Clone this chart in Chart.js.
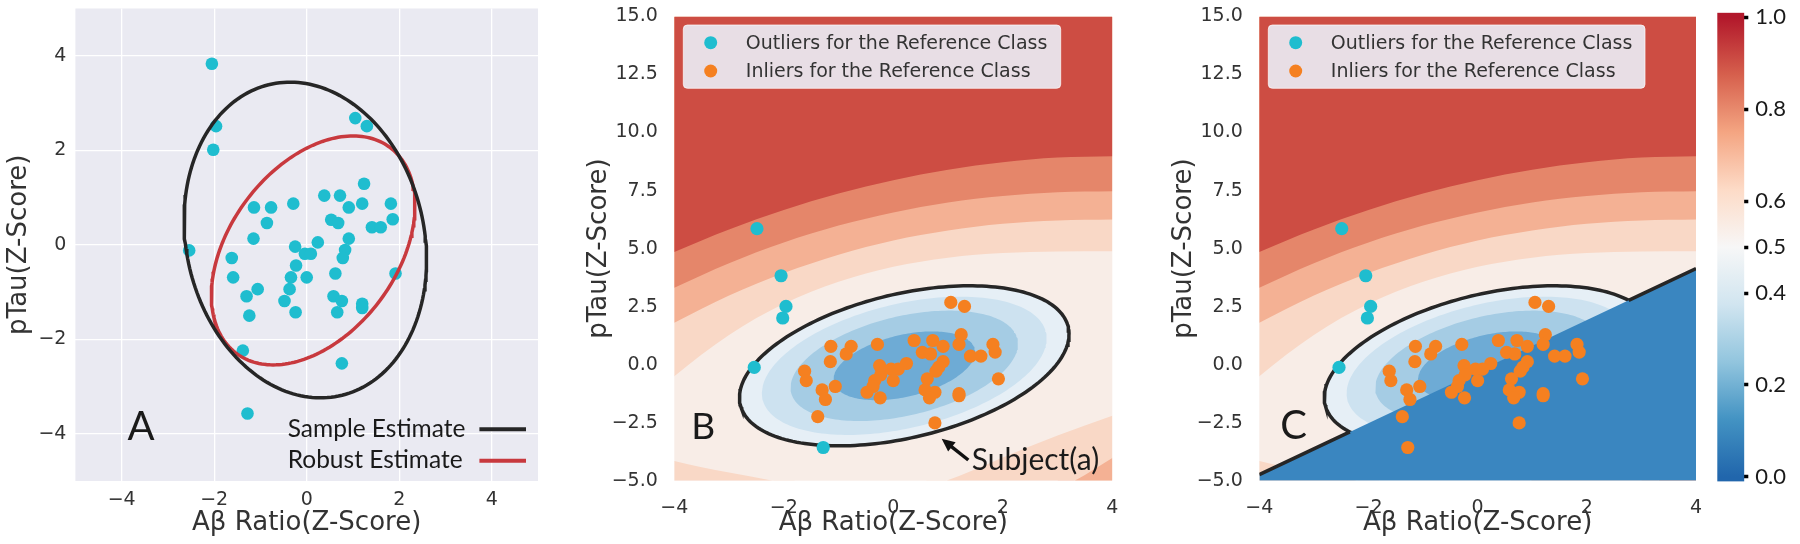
<!DOCTYPE html>
<html>
<head>
<meta charset="utf-8">
<script src="https://cdn.jsdelivr.net/npm/chart.js@4.4.1/dist/chart.umd.min.js"></script>
<style>
  html, body { margin: 0; padding: 0; background: #fff; }
  #wrap { position: relative; width: 1800px; height: 544px; overflow: hidden; }
  canvas { position: absolute; top: 0; }
</style>
</head>
<body>
<div id="wrap">
  <canvas id="chartA" width="560" height="544" style="left:0px"></canvas>
  <canvas id="chartB" width="585" height="544" style="left:560px"></canvas>
  <canvas id="chartC" width="575" height="544" style="left:1145px"></canvas>
  <canvas id="colorbar" width="100" height="544" style="left:1700px"></canvas>
</div>
<script>
// subjects: Abeta ratio and pTau z-scores (same subjects in all three panels)
const abeta = [-2.05, -1.96, -2.02, -2.54, 1.05, 1.30, 1.24, 0.38, 0.72, 0.91, 1.20, 1.82, 1.86, 1.41, 1.60,
  0.53, 0.68, -0.29, -0.77, -1.14, -0.86, -1.15, 0.91, 0.24, -0.25, -0.04, 0.09, 0.83, 0.78, -1.62,
  -0.23, -1.59, -0.34, 0.00, 0.62, 1.92, -1.06, -0.37, -1.30, -0.48, 0.58, 0.76, 1.20, 1.20, -1.24,
  -0.24, 0.66, -1.38, 0.76, -1.28, -2.49];
const ptau = [3.83, 2.51, 2.01, -0.12, 2.68, 2.51, 1.29, 1.04, 1.04, 0.79, 0.87, 0.87, 0.54, 0.37, 0.37,
  0.53, 0.46, 0.87, 0.79, 0.79, 0.46, 0.13, 0.13, 0.05, -0.04, -0.19, -0.19, -0.11, -0.28, -0.28,
  -0.44, -0.69, -0.69, -0.69, -0.61, -0.61, -0.94, -0.94, -1.09, -1.19, -1.09, -1.19, -1.25, -1.34, -1.50,
  -1.43, -1.43, -2.24, -2.51, -3.57, 5.86];
// indexes of the subjects flagged as outliers in B and C
const outliersB = [0, 1, 2, 3, 49, 50];
const outliersC = [0, 1, 2, 3, 50];

const legendLabelsA = ['Sample Estimate', 'Robust Estimate'];
const legendLabelsBC = ['Outliers for the Reference Class', 'Inliers for the Reference Class'];

const ticksA = [-4, -2, 0, 2, 4];
const xTicksBC = [-4, -2, 0, 2, 4];
const yTicksBC = [-5, -2.5, 0, 2.5, 5, 7.5, 10, 12.5, 15];
const colorbarTicks = [0, 0.2, 0.4, 0.5, 0.6, 0.8, 1.0];

// ellipses: [centre x, centre y, semi axis a, semi axis b, angle in degrees]
const sampleEllipse = [-0.03, 0.10, 3.38, 2.57, 103.6];
const robustEllipse = [0.14, -0.12, 2.74, 1.79, 51.9];
const refEllipse = [0.20, -0.05, 3.85, 2.475, 54.5];
// inner probability levels of the reference class, as a fraction of refEllipse
const innerLevels = [0.5, 0.4, 0.3, 0.2];
const innerScale = [1.0, 0.864, 0.69, 0.43];

// outer probability contours (upper arcs)
const arcX = [-4.5, -4, -3, -2, -1, 0, 1, 2, 3, 4, 4.5];
const arc06 = [-1.58, -0.5, 1.28, 2.62, 3.57, 4.22, 4.61, 4.81, 4.88, 4.89, 4.89];
const arc07 = [1.13, 1.80, 2.98, 3.95, 4.74, 5.35, 5.78, 6.07, 6.21, 6.25, 6.26];
const arc08 = [2.72, 3.31, 4.37, 5.26, 5.99, 6.56, 6.99, 7.27, 7.43, 7.47, 7.48];
const arc09 = [4.32, 4.85, 5.82, 6.66, 7.37, 7.95, 8.40, 8.72, 8.92, 8.98, 8.99];
// lower corners
const lowRightX06 = [0.6, 1.2, 2, 3, 4, 4.5];
const lowRight06 = [-5.3, -4.8, -4.0, -3.05, -2.2, -1.8];
const lowRightX07 = [3.0, 3.5, 4, 4.5];
const lowRight07 = [-5.4, -4.75, -4.02, -3.3];
const lowLeftX06 = [-4.5, -4, -3, -2.2, -1.8];
const lowLeft06 = [-3.8, -4.15, -4.65, -5.0, -5.2];

// panel C linear boundary
const classifierX = [-4, 4];
const classifierY = [-4.74, 4.14];

// colorbar colour map
const cmapStops = [[0, '#2166ac'], [0.125, '#4393c3'], [0.25, '#92c5de'], [0.375, '#d1e5f0'], [0.5, '#f7f7f7'],
  [0.625, '#fddbc7'], [0.75, '#f4a582'], [0.875, '#d6604d'], [1, '#b2182b']];

const cyan = '#1fbdcf';
const orange = '#f58020';
const textColor = '#333333';
const tickFont = { family: '"DejaVu Sans", sans-serif', size: 19 };
const titleFont = { family: '"DejaVu Sans", sans-serif', size: 26 };

Chart.defaults.font.family = '"DejaVu Sans", sans-serif';

const minus = s => String(s).replace('-', '\u2212');
const toPts = (xs, ys) => xs.map((x, i) => ({ x, y: ys[i] }));

function ellipsePoints(e, s, n) {
  const [cx, cy, a, b, deg] = e;
  const r = deg * Math.PI / 180;
  const pts = [];
  for (let i = 0; i <= n; i++) {
    const t = 2 * Math.PI * i / n;
    const u = a * s * Math.cos(t), v = b * s * Math.sin(t);
    pts.push({ x: cx + u * Math.cos(r) - v * Math.sin(r), y: cy + u * Math.sin(r) + v * Math.cos(r) });
  }
  return pts;
}

// straight boundary of C, with the part inside the reference ellipse left out
function classifierBoundary() {
  const [cx, cy, a, b, deg] = refEllipse;
  const r = deg * Math.PI / 180;
  const toU = (x, y) => (x - cx) * Math.cos(r) + (y - cy) * Math.sin(r);
  const toV = (x, y) => -(x - cx) * Math.sin(r) + (y - cy) * Math.cos(r);
  const x0 = classifierX[0], y0 = classifierY[0], dx = classifierX[1] - x0, dy = classifierY[1] - y0;
  const u0 = toU(x0, y0), v0 = toV(x0, y0);
  const du = toU(x0 + dx, y0 + dy) - u0, dv = toV(x0 + dx, y0 + dy) - v0;
  const A = (du / a) ** 2 + (dv / b) ** 2;
  const B = 2 * (u0 * du / (a * a) + v0 * dv / (b * b));
  const C = (u0 / a) ** 2 + (v0 / b) ** 2 - 1;
  const disc = Math.sqrt(B * B - 4 * A * C);
  const t1 = (-B - disc) / (2 * A), t2 = (-B + disc) / (2 * A);
  const at = t => ({ x: x0 + t * dx, y: y0 + t * dy });
  return [at(0), at(t1), { x: at((t1 + t2) / 2).x, y: null }, at(t2), at(1)];
}

function fixAxis(size, horizontal) {
  return s => {
    if (horizontal) s.height = size; else s.width = size;
    s.paddingLeft = 0; s.paddingRight = 0; s.paddingTop = 0; s.paddingBottom = 0;
  };
}

const areaBackground = {
  id: 'areaBackground',
  beforeDraw(chart, args, opts) {
    const { ctx, chartArea: a } = chart;
    ctx.save();
    ctx.fillStyle = opts.color;
    ctx.fillRect(a.left, a.top, a.width, a.height);
    ctx.restore();
  }
};

const panelText = {
  id: 'panelText',
  afterDatasetsDraw(chart, args, opts) {
    const { ctx, chartArea: a } = chart;
    ctx.save();
    ctx.fillStyle = '#1a1a1a';
    ctx.textBaseline = 'alphabetic';
    ctx.textAlign = 'left';
    ctx.font = opts.letterSize + 'px Lato, "Open Sans", sans-serif';
    ctx.fillText(opts.letter, a.left + opts.letterX, a.top + opts.letterY);

    if (opts.lineLegend) {
      ctx.font = '24.5px Lato, "Open Sans", sans-serif';
      chart.data.datasets.filter(d => d.inLegend).forEach((d, i) => {
        const base = a.top + 428.2 + i * 31.6;
        ctx.fillStyle = '#1a1a1a';
        ctx.fillText(d.label, a.left + 212.3, base);
        ctx.strokeStyle = d.borderColor;
        ctx.lineWidth = 4;
        ctx.beginPath();
        ctx.moveTo(a.left + 404, base - 7.5);
        ctx.lineTo(a.left + 450.6, base - 7.5);
        ctx.stroke();
      });
    }

    if (opts.dotLegend) {
      const x0 = a.left + 9, y0 = a.top + 8.5, w = opts.boxWidth, h = 63.3;
      ctx.beginPath();
      ctx.roundRect(x0, y0, w, h, 4);
      ctx.fillStyle = 'rgba(234,234,242,0.93)';
      ctx.fill();
      ctx.strokeStyle = 'rgba(255,255,255,0.7)';
      ctx.lineWidth = 1;
      ctx.stroke();
      ctx.font = '19px "DejaVu Sans", sans-serif';
      ctx.textBaseline = 'middle';
      chart.data.datasets.filter(d => d.inLegend).forEach((d, i) => {
        const cy = y0 + 17.7 + i * 28.3;
        ctx.fillStyle = d.backgroundColor;
        ctx.beginPath();
        ctx.arc(x0 + 27.4, cy, 6.5, 0, 2 * Math.PI);
        ctx.fill();
        ctx.fillStyle = textColor;
        ctx.fillText(d.label, x0 + 62.5, cy + 1);
      });
    }

    if (opts.subject) {
      const tx = a.left + 294, ty = a.top + 443.5, hx = a.left + 267.4, hy = a.top + 422.3;
      const ang = Math.atan2(hy - ty, hx - tx);
      ctx.strokeStyle = '#111';
      ctx.fillStyle = '#111';
      ctx.lineWidth = 3.5;
      ctx.beginPath();
      ctx.moveTo(tx, ty);
      ctx.lineTo(hx - 8 * Math.cos(ang), hy - 8 * Math.sin(ang));
      ctx.stroke();
      ctx.beginPath();
      ctx.moveTo(hx, hy);
      ctx.lineTo(hx - 13 * Math.cos(ang) + 6 * Math.sin(ang), hy - 13 * Math.sin(ang) - 6 * Math.cos(ang));
      ctx.lineTo(hx - 13 * Math.cos(ang) - 6 * Math.sin(ang), hy - 13 * Math.sin(ang) + 6 * Math.cos(ang));
      ctx.closePath();
      ctx.fill();
      ctx.textBaseline = 'alphabetic';
      ctx.font = '30px Lato, "Open Sans", sans-serif';
      ctx.fillStyle = '#1a1a1a';
      ctx.fillText(opts.subject, a.left + 297.4, a.top + 453.5);
    }
    ctx.restore();
  }
};

// ---------- panel A ----------
new Chart(document.getElementById('chartA'), {
  type: 'scatter',
  data: {
    datasets: [
      { type: 'line', label: legendLabelsA[0], inLegend: true, data: ellipsePoints(sampleEllipse, 1, 200),
        borderColor: '#262626', borderWidth: 3.5, pointRadius: 0, fill: false, tension: 0 },
      { type: 'line', label: legendLabelsA[1], inLegend: true, data: ellipsePoints(robustEllipse, 1, 200),
        borderColor: '#c8393e', borderWidth: 3.5, pointRadius: 0, fill: false, tension: 0 },
      { label: 'Subjects', data: toPts(abeta, ptau), backgroundColor: cyan, pointRadius: 6.3, borderWidth: 0 }
    ]
  },
  options: {
    responsive: false, animation: false, devicePixelRatio: 1, events: [],
    layout: { padding: { left: 0, top: 8.5, right: 22, bottom: 0 } },
    plugins: {
      legend: { display: false }, tooltip: { enabled: false },
      areaBackground: { color: '#eaeaf2' },
      panelText: { letter: 'A', letterSize: 40, letterX: 52, letterY: 431.5, lineLegend: true }
    },
    scales: {
      x: {
        type: 'linear', min: -5, max: 5,
        afterBuildTicks: s => { s.ticks = ticksA.map(v => ({ value: v })); },
        afterFit: fixAxis(63, true),
        grid: { color: '#ffffff', lineWidth: 1.3, drawTicks: false },
        border: { display: false },
        ticks: { color: textColor, font: tickFont, padding: 7.6, callback: v => minus(v) },
        title: { display: true, text: 'A\u03b2 Ratio(Z-Score)', color: textColor, font: titleFont, padding: { top: 0, bottom: 5.5 } }
      },
      y: {
        type: 'linear', min: -5, max: 5,
        afterBuildTicks: s => { s.ticks = ticksA.map(v => ({ value: v })); },
        afterFit: fixAxis(75.4, false),
        grid: { color: '#ffffff', lineWidth: 1.3, drawTicks: false },
        border: { display: false },
        ticks: { color: textColor, font: tickFont, padding: 9, callback: v => minus(v) },
        title: { display: true, text: 'pTau(Z-Score)', color: textColor, font: titleFont, padding: { top: 3.6, bottom: 0 } }
      }
    }
  },
  plugins: [areaBackground, panelText]
});

// ---------- panels B and C ----------
function band(points, color, fill, smooth) {
  return {
    type: 'line', data: points, backgroundColor: color, borderColor: 'rgba(0,0,0,0)', borderWidth: 0,
    pointRadius: 0, fill, tension: 0, cubicInterpolationMode: smooth ? 'monotone' : 'default'
  };
}

function panelDatasets(outliers, withClassifier) {
  const isOut = abeta.map((x, i) => outliers.includes(i));
  const sets = [
    { label: legendLabelsBC[0], inLegend: true, data: toPts(abeta, ptau).filter((p, i) => isOut[i]),
      backgroundColor: cyan, pointRadius: 6.6, borderWidth: 0 },
    { label: legendLabelsBC[1], inLegend: true, data: toPts(abeta, ptau).filter((p, i) => !isOut[i]),
      backgroundColor: orange, pointRadius: 6.6, borderWidth: 0 }
  ];
  if (withClassifier) {
    sets.push({ type: 'line', data: classifierBoundary(), borderColor: '#262626', borderWidth: 3.5,
      pointRadius: 0, fill: false, tension: 0, spanGaps: false });
    sets.push(band(toPts(classifierX, classifierY), '#3a86c0', 'start', false));
  }
  const innerColors = ['#6eabd5', '#a5cce4', '#cde2f0', '#e6eff6'];
  for (let i = innerLevels.length - 1; i >= 0; i--) {
    const d = band(ellipsePoints(refEllipse, innerScale[i], 200), innerColors[innerLevels.length - 1 - i], 'shape', false);
    if (innerLevels[i] === 0.5) { d.borderColor = '#262626'; d.borderWidth = 3.5; }
    sets.push(d);
  }
  sets.push(band(toPts(lowRightX07, lowRight07), '#f4b194', 'start', true));
  sets.push(band(toPts(lowRightX06, lowRight06), '#f9d8c6', 'start', true));
  sets.push(band(toPts(lowLeftX06, lowLeft06), '#f9d8c6', 'start', true));
  sets.push(band(toPts(arcX, arc09), '#cd4d43', 'end', true));
  sets.push(band(toPts(arcX, arc08), '#e5866a', 'end', true));
  sets.push(band(toPts(arcX, arc07), '#f4b194', 'end', true));
  sets.push(band(toPts(arcX, arc06), '#f9d8c6', 'end', true));
  return sets;
}

function panelChart(id, outliers, withClassifier, rightPad, textOpts) {
  return new Chart(document.getElementById(id), {
    type: 'scatter',
    data: { datasets: panelDatasets(outliers, withClassifier) },
    options: {
      responsive: false, animation: false, devicePixelRatio: 1, events: [],
      layout: { padding: { left: 0, top: 16.5, right: rightPad, bottom: 0 } },
      plugins: {
        legend: { display: false }, tooltip: { enabled: false },
        areaBackground: { color: '#f8ede7' },
        panelText: textOpts
      },
      scales: {
        x: {
          type: 'linear', min: -4, max: 4,
          afterBuildTicks: s => { s.ticks = xTicksBC.map(v => ({ value: v })); },
          afterFit: fixAxis(63.3, true),
          grid: { display: false }, border: { display: false },
          ticks: { color: textColor, font: tickFont, padding: 7.6, callback: v => minus(v) },
          title: { display: true, text: 'A\u03b2 Ratio(Z-Score)', color: textColor, font: titleFont, padding: { top: 0, bottom: 5.5 } }
        },
        y: {
          type: 'linear', min: -5, max: 15,
          afterBuildTicks: s => { s.ticks = yTicksBC.map(v => ({ value: v })); },
          afterFit: fixAxis(114.3, false),
          grid: { display: false }, border: { display: false },
          ticks: { color: textColor, font: tickFont, padding: 8.5, callback: v => minus(Number(v).toFixed(1)) },
          title: { display: true, text: 'pTau(Z-Score)', color: textColor, font: titleFont, padding: { top: 23.4, bottom: 0 } }
        }
      }
    },
    plugins: [areaBackground, panelText]
  });
}

panelChart('chartB', outliersB, false, 32.7,
  { letter: 'B', letterSize: 37, letterX: 17, letterY: 422.8, dotLegend: true, boxWidth: 377.4, subject: 'Subject(a)' });
panelChart('chartC', outliersC, true, 24,
  { letter: 'C', letterSize: 40, letterX: 21, letterY: 422.8, dotLegend: true, boxWidth: 376.7 });

// ---------- colorbar ----------
new Chart(document.getElementById('colorbar'), {
  type: 'bar',
  data: {
    labels: [''],
    datasets: [{
      data: [[-0.01, 1.01]],
      borderWidth: 0, barPercentage: 1, categoryPercentage: 1,
      backgroundColor: ctx => {
        const chart = ctx.chart;
        if (!chart.chartArea) return '#f7f7f7';
        const y = chart.scales.y;
        const g = chart.ctx.createLinearGradient(0, y.getPixelForValue(0), 0, y.getPixelForValue(1));
        cmapStops.forEach(([v, c]) => g.addColorStop(v, c));
        return g;
      }
    }]
  },
  options: {
    responsive: false, animation: false, devicePixelRatio: 1, events: [],
    layout: { padding: { left: 17.3, top: 12.7, right: 0, bottom: 62.6 } },
    plugins: { legend: { display: false }, tooltip: { enabled: false } },
    scales: {
      x: { display: false },
      y: {
        position: 'right', min: -0.01, max: 1.01,
        afterBuildTicks: s => { s.ticks = colorbarTicks.map(v => ({ value: v })); },
        afterFit: fixAxis(55.7, false),
        grid: { drawOnChartArea: false, drawTicks: true, tickLength: 4, tickWidth: 3.5, tickColor: '#000' },
        border: { display: false },
        ticks: { color: '#1a1a1a', padding: 7, font: { family: 'Lato, "Open Sans", sans-serif', size: 22 },
          callback: v => Number(v).toFixed(1) }
      }
    }
  }
});
</script>
</body>
</html>
